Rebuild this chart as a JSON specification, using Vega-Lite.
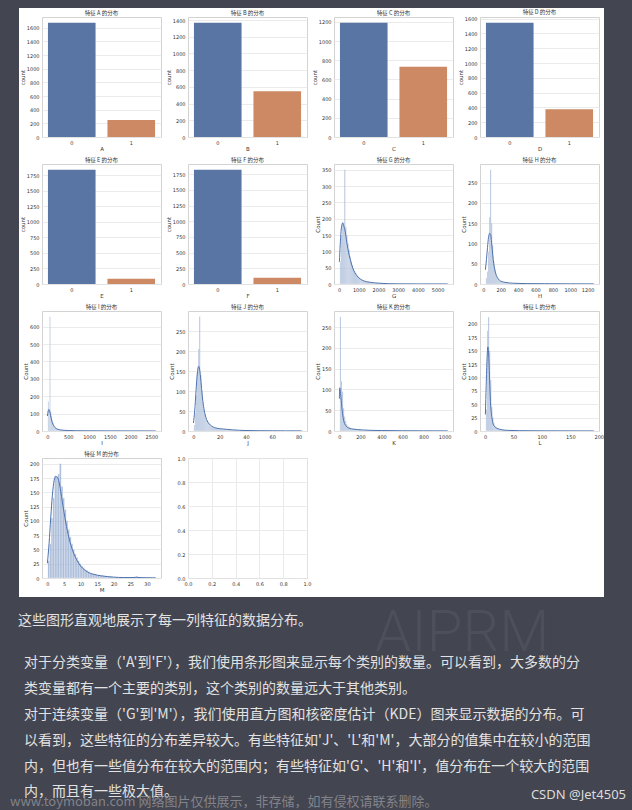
{
"$schema": "https://vega.github.io/schema/vega-lite/v6.json",
"background": "white",
"padding": 0,
"spacing": 0,
"config": {
  "font": "DejaVu Sans",
  "view": {"stroke": "#d3d3d3", "strokeWidth": 1},
  "axis": {"labelFont": "DejaVu Sans", "labelFontSize": 5, "labelColor": "#333333", "titleFont": "DejaVu Sans", "titleFontSize": 5.5, "titleFontWeight": "normal", "titleColor": "#333333", "ticks": false, "tickSize": 0, "domain": false, "gridColor": "#e6e6e6", "gridWidth": 0.8, "labelPadding": 3, "titlePadding": 1, "labelFlush": false, "labelOverlap": false},
  "title": {"font": "Noto Sans CJK SC", "fontSize": 5.5, "fontWeight": "normal", "color": "#333333", "offset": 1}
},
"datasets": {
  "A": [{"value": "0", "count": 1673}, {"value": "1", "count": 249}],
  "B": [{"value": "0", "count": 1368}, {"value": "1", "count": 546}],
  "C": [{"value": "0", "count": 1190}, {"value": "1", "count": 732}],
  "D": [{"value": "0", "count": 1546}, {"value": "1", "count": 374}],
  "E": [{"value": "0", "count": 1835}, {"value": "1", "count": 85}],
  "F": [{"value": "0", "count": 1820}, {"value": "1", "count": 100}],
  "G_hist": [{"s":19,"c":70},{"s":74,"c":150},{"s":129,"c":190},{"s":184,"c":185},{"s":239,"c":350},{"s":294,"c":175},{"s":349,"c":150},{"s":404,"c":125},{"s":459,"c":105},{"s":514,"c":85},{"s":569,"c":70},{"s":624,"c":58},{"s":679,"c":48},{"s":734,"c":40},{"s":789,"c":34},{"s":844,"c":28},{"s":899,"c":24},{"s":954,"c":20},{"s":1009,"c":17},{"s":1064,"c":14},{"s":1119,"c":12},{"s":1174,"c":11},{"s":1229,"c":9},{"s":1284,"c":8},{"s":1339,"c":7},{"s":1394,"c":6},{"s":1449,"c":6},{"s":1504,"c":5},{"s":1559,"c":5},{"s":1614,"c":4},{"s":1669,"c":4},{"s":1724,"c":3},{"s":1779,"c":3},{"s":1834,"c":3},{"s":1889,"c":2},{"s":1944,"c":2},{"s":1999,"c":2},{"s":2054,"c":2},{"s":2109,"c":1},{"s":2164,"c":1},{"s":2274,"c":1},{"s":2384,"c":1},{"s":2549,"c":1},{"s":2714,"c":1},{"s":3044,"c":1},{"s":3539,"c":1},{"s":4419,"c":1},{"s":5464,"c":1}],
  "G_kde": [{"x":19,"y":68},{"x":60,"y":120},{"x":100,"y":160},{"x":150,"y":183},{"x":190,"y":187},{"x":230,"y":180},{"x":300,"y":165},{"x":400,"y":125},{"x":500,"y":92},{"x":600,"y":68},{"x":700,"y":48},{"x":800,"y":35},{"x":900,"y":26},{"x":1000,"y":19},{"x":1200,"y":11},{"x":1400,"y":7},{"x":1600,"y":5},{"x":1800,"y":3.5},{"x":2000,"y":2.5},{"x":2500,"y":1},{"x":3000,"y":0.5},{"x":4000,"y":0.2},{"x":5507,"y":0.1}],
  "H_hist": [{"s":24,"c":15},{"s":36,"c":30},{"s":48,"c":80},{"s":60,"c":165},{"s":72,"c":282},{"s":84,"c":150},{"s":96,"c":95},{"s":108,"c":55},{"s":120,"c":38},{"s":132,"c":26},{"s":144,"c":19},{"s":156,"c":14},{"s":168,"c":10},{"s":180,"c":8},{"s":192,"c":6},{"s":204,"c":5},{"s":216,"c":4},{"s":228,"c":3},{"s":240,"c":3},{"s":252,"c":2},{"s":264,"c":2},{"s":276,"c":2},{"s":288,"c":1},{"s":300,"c":1},{"s":324,"c":1},{"s":348,"c":1},{"s":384,"c":1},{"s":420,"c":1},{"s":480,"c":1},{"s":540,"c":1},{"s":612,"c":1},{"s":720,"c":1},{"s":840,"c":1},{"s":1020,"c":1},{"s":1256,"c":1}],
  "H_kde": [{"x":24,"y":35},{"x":36,"y":60},{"x":48,"y":90},{"x":60,"y":115},{"x":72,"y":125},{"x":84,"y":122},{"x":96,"y":100},{"x":108,"y":72},{"x":120,"y":50},{"x":135,"y":32},{"x":150,"y":21},{"x":170,"y":13},{"x":200,"y":7},{"x":250,"y":4},{"x":300,"y":2.5},{"x":400,"y":1.5},{"x":500,"y":1},{"x":700,"y":0.7},{"x":1000,"y":0.4},{"x":1268,"y":0.2}],
  "I_hist": [{"s":0,"c":170},{"s":20,"c":120},{"s":40,"c":657},{"s":60,"c":110},{"s":80,"c":88},{"s":100,"c":62},{"s":120,"c":44},{"s":140,"c":32},{"s":160,"c":24},{"s":180,"c":18},{"s":200,"c":14},{"s":220,"c":11},{"s":240,"c":9},{"s":260,"c":7},{"s":280,"c":6},{"s":300,"c":5},{"s":320,"c":4},{"s":340,"c":4},{"s":360,"c":3},{"s":380,"c":3},{"s":400,"c":2},{"s":420,"c":2},{"s":460,"c":2},{"s":500,"c":1},{"s":540,"c":1},{"s":600,"c":1},{"s":680,"c":1},{"s":760,"c":1},{"s":860,"c":1},{"s":980,"c":1},{"s":1120,"c":1},{"s":1300,"c":1},{"s":1560,"c":1},{"s":1900,"c":1},{"s":2280,"c":1},{"s":2580,"c":1}],
  "I_kde": [{"x":0,"y":86},{"x":15,"y":110},{"x":35,"y":124},{"x":55,"y":115},{"x":75,"y":90},{"x":100,"y":62},{"x":130,"y":40},{"x":160,"y":27},{"x":200,"y":16},{"x":250,"y":10},{"x":300,"y":6.5},{"x":400,"y":4},{"x":500,"y":2.7},{"x":700,"y":1.6},{"x":1000,"y":1},{"x":1500,"y":0.6},{"x":2000,"y":0.4},{"x":2600,"y":0.2}],
  "J_hist": [{"s":0,"c":15},{"s":0.8,"c":45},{"s":1.6,"c":90},{"s":2.4,"c":150},{"s":3.2,"c":205},{"s":4.0,"c":286},{"s":4.8,"c":140},{"s":5.6,"c":100},{"s":6.4,"c":72},{"s":7.2,"c":55},{"s":8.0,"c":42},{"s":8.8,"c":33},{"s":9.6,"c":27},{"s":10.4,"c":22},{"s":11.2,"c":18},{"s":12.0,"c":15},{"s":12.8,"c":12},{"s":13.6,"c":10},{"s":14.4,"c":9},{"s":15.2,"c":8},{"s":16.0,"c":7},{"s":16.8,"c":6},{"s":17.6,"c":6},{"s":18.4,"c":5},{"s":19.2,"c":5},{"s":20.0,"c":5},{"s":20.8,"c":4},{"s":21.6,"c":4},{"s":22.4,"c":4},{"s":23.2,"c":4},{"s":24.0,"c":3},{"s":24.8,"c":3},{"s":25.6,"c":3},{"s":26.4,"c":3},{"s":27.2,"c":3},{"s":28.0,"c":2},{"s":28.8,"c":2},{"s":29.6,"c":2},{"s":30.4,"c":2},{"s":31.2,"c":2},{"s":32.0,"c":2},{"s":33.6,"c":2},{"s":35.2,"c":1},{"s":36.8,"c":1},{"s":38.4,"c":1},{"s":40.0,"c":1},{"s":41.6,"c":1},{"s":43.2,"c":1},{"s":44.8,"c":1},{"s":48.0,"c":1},{"s":51.2,"c":1},{"s":54.4,"c":1},{"s":57.6,"c":1},{"s":61.6,"c":1},{"s":67.2,"c":1},{"s":74.4,"c":1},{"s":81.6,"c":1}],
  "J_kde": [{"x":0,"y":20},{"x":1,"y":50},{"x":2,"y":100},{"x":3,"y":145},{"x":4,"y":162},{"x":5,"y":148},{"x":6,"y":115},{"x":7,"y":80},{"x":8,"y":56},{"x":9,"y":40},{"x":10,"y":29},{"x":12,"y":18},{"x":14,"y":12},{"x":16,"y":8.5},{"x":18,"y":6.8},{"x":20,"y":5.8},{"x":25,"y":4.2},{"x":30,"y":2.8},{"x":35,"y":1.8},{"x":40,"y":1.2},{"x":50,"y":0.7},{"x":60,"y":0.5},{"x":70,"y":0.3},{"x":82.3,"y":0.2}],
  "K_hist": [{"s":0,"c":275},{"s":10,"c":120},{"s":20,"c":95},{"s":30,"c":55},{"s":40,"c":35},{"s":50,"c":24},{"s":60,"c":17},{"s":70,"c":12},{"s":80,"c":10},{"s":90,"c":8},{"s":100,"c":7},{"s":110,"c":6},{"s":120,"c":5},{"s":130,"c":5},{"s":140,"c":4},{"s":150,"c":4},{"s":160,"c":3},{"s":170,"c":3},{"s":180,"c":3},{"s":190,"c":2},{"s":200,"c":2},{"s":210,"c":2},{"s":230,"c":2},{"s":250,"c":1},{"s":270,"c":1},{"s":290,"c":1},{"s":320,"c":1},{"s":360,"c":1},{"s":400,"c":1},{"s":450,"c":1},{"s":520,"c":1},{"s":600,"c":1},{"s":720,"c":1},{"s":850,"c":1},{"s":1010,"c":1}],
  "K_kde": [{"x":0,"y":78},{"x":3,"y":104},{"x":8,"y":98},{"x":15,"y":80},{"x":25,"y":52},{"x":35,"y":33},{"x":45,"y":21},{"x":60,"y":13},{"x":75,"y":9},{"x":100,"y":6},{"x":130,"y":4.6},{"x":170,"y":3.5},{"x":220,"y":2.5},{"x":300,"y":1.6},{"x":400,"y":1.1},{"x":600,"y":0.6},{"x":800,"y":0.4},{"x":1028,"y":0.2}],
  "L_hist": [{"s":0.6,"c":40},{"s":2.5,"c":187},{"s":4.4,"c":213},{"s":6.3,"c":150},{"s":8.2,"c":95},{"s":10.1,"c":45},{"s":12.0,"c":25},{"s":13.9,"c":15},{"s":15.8,"c":10},{"s":17.7,"c":7},{"s":19.6,"c":5},{"s":21.5,"c":4},{"s":23.4,"c":3},{"s":25.3,"c":3},{"s":27.2,"c":2},{"s":29.1,"c":2},{"s":31.0,"c":2},{"s":32.9,"c":1},{"s":34.8,"c":1},{"s":38.6,"c":1},{"s":42.4,"c":1},{"s":48.1,"c":1},{"s":55.7,"c":1},{"s":65.2,"c":1},{"s":78.5,"c":1},{"s":95.6,"c":1},{"s":120.3,"c":1},{"s":150.7,"c":1},{"s":189.1,"c":1}],
  "L_kde": [{"x":0.6,"y":31},{"x":2,"y":85},{"x":3.5,"y":135},{"x":5,"y":157},{"x":6.5,"y":140},{"x":8,"y":95},{"x":9.5,"y":55},{"x":11,"y":34},{"x":12.5,"y":22},{"x":14,"y":14},{"x":17,"y":8},{"x":20,"y":5.5},{"x":25,"y":3.5},{"x":30,"y":2.2},{"x":40,"y":1.2},{"x":60,"y":0.6},{"x":100,"y":0.3},{"x":150,"y":0.2},{"x":191,"y":0.1}],
  "M_hist": [{"s":0,"c":30},{"s":0.5,"c":60},{"s":1.0,"c":105},{"s":1.5,"c":140},{"s":2.0,"c":178},{"s":2.5,"c":178},{"s":3.0,"c":182},{"s":3.5,"c":200},{"s":4.0,"c":160},{"s":4.5,"c":140},{"s":5.0,"c":120},{"s":5.5,"c":100},{"s":6.0,"c":85},{"s":6.5,"c":72},{"s":7.0,"c":60},{"s":7.5,"c":50},{"s":8.0,"c":42},{"s":8.5,"c":36},{"s":9.0,"c":30},{"s":9.5,"c":25},{"s":10.0,"c":21},{"s":10.5,"c":18},{"s":11.0,"c":15},{"s":11.5,"c":13},{"s":12.0,"c":11},{"s":12.5,"c":9},{"s":13.0,"c":8},{"s":13.5,"c":7},{"s":14.0,"c":6},{"s":14.5,"c":5},{"s":15.0,"c":5},{"s":15.5,"c":4},{"s":16.0,"c":4},{"s":16.5,"c":3},{"s":17.0,"c":3},{"s":17.5,"c":2},{"s":18.0,"c":2},{"s":18.5,"c":2},{"s":19.0,"c":2},{"s":19.5,"c":1},{"s":20.0,"c":1},{"s":20.5,"c":1},{"s":21.5,"c":1},{"s":22.5,"c":1},{"s":23.5,"c":1},{"s":25.0,"c":1},{"s":26.5,"c":3},{"s":27.0,"c":1},{"s":28.5,"c":1},{"s":30.0,"c":1},{"s":32.0,"c":1}],
  "M_kde": [{"x":0,"y":26},{"x":0.5,"y":60},{"x":1,"y":105},{"x":1.5,"y":145},{"x":2,"y":170},{"x":2.5,"y":178},{"x":3,"y":176},{"x":3.5,"y":168},{"x":4,"y":152},{"x":4.5,"y":133},{"x":5,"y":115},{"x":5.5,"y":98},{"x":6,"y":83},{"x":6.5,"y":70},{"x":7,"y":59},{"x":7.5,"y":50},{"x":8,"y":42},{"x":9,"y":30},{"x":10,"y":21},{"x":11,"y":15},{"x":12,"y":11},{"x":13,"y":8},{"x":14,"y":6.5},{"x":15,"y":5},{"x":16,"y":4},{"x":18,"y":2.5},{"x":20,"y":1.5},{"x":23,"y":0.8},{"x":25.5,"y":0.8},{"x":26.8,"y":1.2},{"x":28.5,"y":0.6},{"x":32.6,"y":0.2}],
  "para1": [{"line": 0, "t": "这些图形直观地展示了每一列特征的数据分布。"}],
  "para2": [
    {"line": 1, "t": "对于分类变量（'A'到'F'），我们使用条形图来显示每个类别的数量。可以看到，大多数的分"},
    {"line": 2, "t": "类变量都有一个主要的类别，这个类别的数量远大于其他类别。"},
    {"line": 3, "t": "对于连续变量（'G'到'M'），我们使用直方图和核密度估计（KDE）图来显示数据的分布。可"},
    {"line": 4, "t": "以看到，这些特征的分布差异较大。有些特征如'J'、'L'和'M'，大部分的值集中在较小的范围"},
    {"line": 5, "t": "内，但也有一些值分布在较大的范围内；有些特征如'G'、'H'和'I'，值分布在一个较大的范围"},
    {"line": 6, "t": "内，而且有一些极大值。"}
  ]
},
"vconcat": [
  {"data": {"values": []}, "mark": "point", "width": 632, "height": 8, "view": {"fill": "#434550", "stroke": null}},
  {"hconcat": [
    {"data": {"values": []}, "mark": "point", "width": 19, "height": 589, "view": {"fill": "#434550", "stroke": null}},
    {"vconcat": [
      {"data": {"values": []}, "mark": "point", "width": 1, "height": 1, "view": {"stroke": null}},
      {"concat": [
        {"title": "特征 A 的分布", "width": 119, "height": 120, "data": {"name": "A"}, "mark": "bar",
         "encoding": {"x": {"field": "value", "type": "nominal", "title": "A", "scale": {"paddingInner": 0.2, "paddingOuter": 0.1}, "axis": {"labelAngle": 0, "grid": false}},
                      "y": {"field": "count", "type": "quantitative", "title": "count", "scale": {"domain": [0, 1757], "nice": false}, "axis": {"values": [0,200,400,600,800,1000,1200,1400,1600], "format": "d"}},
                      "color": {"field": "value", "type": "nominal", "scale": {"range": ["#5875a4", "#cc8963"]}, "legend": null}}},
        {"title": "特征 B 的分布", "width": 119, "height": 120, "data": {"name": "B"}, "mark": "bar",
         "encoding": {"x": {"field": "value", "type": "nominal", "title": "B", "scale": {"paddingInner": 0.2, "paddingOuter": 0.1}, "axis": {"labelAngle": 0, "grid": false}},
                      "y": {"field": "count", "type": "quantitative", "title": "count", "scale": {"domain": [0, 1436], "nice": false}, "axis": {"values": [0,200,400,600,800,1000,1200,1400], "format": "d"}},
                      "color": {"field": "value", "type": "nominal", "scale": {"range": ["#5875a4", "#cc8963"]}, "legend": null}}},
        {"title": "特征 C 的分布", "width": 119, "height": 120, "data": {"name": "C"}, "mark": "bar",
         "encoding": {"x": {"field": "value", "type": "nominal", "title": "C", "scale": {"paddingInner": 0.2, "paddingOuter": 0.1}, "axis": {"labelAngle": 0, "grid": false}},
                      "y": {"field": "count", "type": "quantitative", "title": "count", "scale": {"domain": [0, 1250], "nice": false}, "axis": {"values": [0,200,400,600,800,1000,1200], "format": "d"}},
                      "color": {"field": "value", "type": "nominal", "scale": {"range": ["#5875a4", "#cc8963"]}, "legend": null}}},
        {"title": "特征 D 的分布", "width": 119, "height": 120, "data": {"name": "D"}, "mark": "bar",
         "encoding": {"x": {"field": "value", "type": "nominal", "title": "D", "scale": {"paddingInner": 0.2, "paddingOuter": 0.1}, "axis": {"labelAngle": 0, "grid": false}},
                      "y": {"field": "count", "type": "quantitative", "title": "count", "scale": {"domain": [0, 1623], "nice": false}, "axis": {"values": [0,200,400,600,800,1000,1200,1400,1600], "format": "d"}},
                      "color": {"field": "value", "type": "nominal", "scale": {"range": ["#5875a4", "#cc8963"]}, "legend": null}}},
        {"title": "特征 E 的分布", "width": 119, "height": 120, "data": {"name": "E"}, "mark": "bar",
         "encoding": {"x": {"field": "value", "type": "nominal", "title": "E", "scale": {"paddingInner": 0.2, "paddingOuter": 0.1}, "axis": {"labelAngle": 0, "grid": false}},
                      "y": {"field": "count", "type": "quantitative", "title": "count", "scale": {"domain": [0, 1927], "nice": false}, "axis": {"values": [0,250,500,750,1000,1250,1500,1750], "format": "d"}},
                      "color": {"field": "value", "type": "nominal", "scale": {"range": ["#5875a4", "#cc8963"]}, "legend": null}}},
        {"title": "特征 F 的分布", "width": 119, "height": 120, "data": {"name": "F"}, "mark": "bar",
         "encoding": {"x": {"field": "value", "type": "nominal", "title": "F", "scale": {"paddingInner": 0.2, "paddingOuter": 0.1}, "axis": {"labelAngle": 0, "grid": false}},
                      "y": {"field": "count", "type": "quantitative", "title": "count", "scale": {"domain": [0, 1911], "nice": false}, "axis": {"values": [0,250,500,750,1000,1250,1500,1750], "format": "d"}},
                      "color": {"field": "value", "type": "nominal", "scale": {"range": ["#5875a4", "#cc8963"]}, "legend": null}}},
        {"title": "特征 G 的分布", "width": 119, "height": 120, "layer": [
          {"data": {"name": "G_hist"}, "mark": {"type": "bar", "fill": "#4c72b0", "fillOpacity": 0.5, "stroke": "white", "strokeWidth": 0.3, "binSpacing": 0, "clip": true},
           "encoding": {"x": {"field": "s", "type": "quantitative", "bin": {"binned": true, "step": 55}, "title": "G", "scale": {"domain": [-255.4, 5781.4], "nice": false, "zero": false}, "axis": {"values": [0,1000,2000,3000,4000,5000], "format": "d"}},
                        "y": {"field": "c", "type": "quantitative", "title": "Count", "scale": {"domain": [0, 367.5], "nice": false}, "axis": {"values": [0,50,100,150,200,250,300,350], "format": "d"}}}},
          {"data": {"name": "G_kde"}, "mark": {"type": "line", "color": "#4c72b0", "strokeWidth": 1, "interpolate": "monotone", "clip": true},
           "encoding": {"x": {"field": "x", "type": "quantitative", "title": "G", "axis": {"values": [0,1000,2000,3000,4000,5000], "format": "d"}}, "y": {"field": "y", "type": "quantitative", "title": "Count", "axis": {"values": [0,50,100,150,200,250,300,350], "format": "d"}}}}]},
        {"title": "特征 H 的分布", "width": 119, "height": 120, "layer": [
          {"data": {"name": "H_hist"}, "mark": {"type": "bar", "fill": "#4c72b0", "fillOpacity": 0.5, "stroke": "white", "strokeWidth": 0.3, "binSpacing": 0, "clip": true},
           "encoding": {"x": {"field": "s", "type": "quantitative", "bin": {"binned": true, "step": 12}, "title": "H", "scale": {"domain": [-38.2, 1330.2], "nice": false, "zero": false}, "axis": {"values": [0,200,400,600,800,1000,1200], "format": "d"}},
                        "y": {"field": "c", "type": "quantitative", "title": "Count", "scale": {"domain": [0, 296], "nice": false}, "axis": {"values": [0,50,100,150,200,250], "format": "d"}}}},
          {"data": {"name": "H_kde"}, "mark": {"type": "line", "color": "#4c72b0", "strokeWidth": 1, "interpolate": "monotone", "clip": true},
           "encoding": {"x": {"field": "x", "type": "quantitative", "title": "H", "axis": {"values": [0,200,400,600,800,1000,1200], "format": "d"}}, "y": {"field": "y", "type": "quantitative", "title": "Count", "axis": {"values": [0,50,100,150,200,250], "format": "d"}}}}]},
        {"title": "特征 I 的分布", "width": 119, "height": 120, "layer": [
          {"data": {"name": "I_hist"}, "mark": {"type": "bar", "fill": "#4c72b0", "fillOpacity": 0.5, "stroke": "white", "strokeWidth": 0.3, "binSpacing": 0, "clip": true},
           "encoding": {"x": {"field": "s", "type": "quantitative", "bin": {"binned": true, "step": 20}, "title": "I", "scale": {"domain": [-130, 2730], "nice": false, "zero": false}, "axis": {"values": [0,500,1000,1500,2000,2500], "format": "d"}},
                        "y": {"field": "c", "type": "quantitative", "title": "Count", "scale": {"domain": [0, 690], "nice": false}, "axis": {"values": [0,100,200,300,400,500,600], "format": "d"}}}},
          {"data": {"name": "I_kde"}, "mark": {"type": "line", "color": "#4c72b0", "strokeWidth": 1, "interpolate": "monotone", "clip": true},
           "encoding": {"x": {"field": "x", "type": "quantitative", "title": "I", "axis": {"values": [0,500,1000,1500,2000,2500], "format": "d"}}, "y": {"field": "y", "type": "quantitative", "title": "Count", "axis": {"values": [0,100,200,300,400,500,600], "format": "d"}}}}]},
        {"title": "特征 J 的分布", "width": 119, "height": 120, "layer": [
          {"data": {"name": "J_hist"}, "mark": {"type": "bar", "fill": "#4c72b0", "fillOpacity": 0.5, "stroke": "white", "strokeWidth": 0.3, "binSpacing": 0, "clip": true},
           "encoding": {"x": {"field": "s", "type": "quantitative", "bin": {"binned": true, "step": 0.8}, "title": "J", "scale": {"domain": [-4.1, 86.4], "nice": false, "zero": false}, "axis": {"values": [0,20,40,60,80], "format": "d"}},
                        "y": {"field": "c", "type": "quantitative", "title": "Count", "scale": {"domain": [0, 300], "nice": false}, "axis": {"values": [0,50,100,150,200,250], "format": "d"}}}},
          {"data": {"name": "J_kde"}, "mark": {"type": "line", "color": "#4c72b0", "strokeWidth": 1, "interpolate": "monotone", "clip": true},
           "encoding": {"x": {"field": "x", "type": "quantitative", "title": "J", "axis": {"values": [0,20,40,60,80], "format": "d"}}, "y": {"field": "y", "type": "quantitative", "title": "Count", "axis": {"values": [0,50,100,150,200,250], "format": "d"}}}}]},
        {"title": "特征 K 的分布", "width": 119, "height": 120, "layer": [
          {"data": {"name": "K_hist"}, "mark": {"type": "bar", "fill": "#4c72b0", "fillOpacity": 0.5, "stroke": "white", "strokeWidth": 0.3, "binSpacing": 0, "clip": true},
           "encoding": {"x": {"field": "s", "type": "quantitative", "bin": {"binned": true, "step": 10}, "title": "K", "scale": {"domain": [-51.4, 1079.4], "nice": false, "zero": false}, "axis": {"values": [0,200,400,600,800,1000], "format": "d"}},
                        "y": {"field": "c", "type": "quantitative", "title": "Count", "scale": {"domain": [0, 289], "nice": false}, "axis": {"values": [0,50,100,150,200,250], "format": "d"}}}},
          {"data": {"name": "K_kde"}, "mark": {"type": "line", "color": "#4c72b0", "strokeWidth": 1, "interpolate": "monotone", "clip": true},
           "encoding": {"x": {"field": "x", "type": "quantitative", "title": "K", "axis": {"values": [0,200,400,600,800,1000], "format": "d"}}, "y": {"field": "y", "type": "quantitative", "title": "Count", "axis": {"values": [0,50,100,150,200,250], "format": "d"}}}}]},
        {"title": "特征 L 的分布", "width": 119, "height": 120, "layer": [
          {"data": {"name": "L_hist"}, "mark": {"type": "bar", "fill": "#4c72b0", "fillOpacity": 0.5, "stroke": "white", "strokeWidth": 0.3, "binSpacing": 0, "clip": true},
           "encoding": {"x": {"field": "s", "type": "quantitative", "bin": {"binned": true, "step": 1.9}, "title": "L", "scale": {"domain": [-8.9, 200.5], "nice": false, "zero": false}, "axis": {"values": [0,50,100,150,200], "format": "d"}},
                        "y": {"field": "c", "type": "quantitative", "title": "Count", "scale": {"domain": [0, 224], "nice": false}, "axis": {"values": [0,25,50,75,100,125,150,175,200], "format": "d"}}}},
          {"data": {"name": "L_kde"}, "mark": {"type": "line", "color": "#4c72b0", "strokeWidth": 1, "interpolate": "monotone", "clip": true},
           "encoding": {"x": {"field": "x", "type": "quantitative", "title": "L", "axis": {"values": [0,50,100,150,200], "format": "d"}}, "y": {"field": "y", "type": "quantitative", "title": "Count", "axis": {"values": [0,25,50,75,100,125,150,175,200], "format": "d"}}}}]},
        {"title": "特征 M 的分布", "width": 119, "height": 120, "layer": [
          {"data": {"name": "M_hist"}, "mark": {"type": "bar", "fill": "#4c72b0", "fillOpacity": 0.5, "stroke": "white", "strokeWidth": 0.3, "binSpacing": 0, "clip": true},
           "encoding": {"x": {"field": "s", "type": "quantitative", "bin": {"binned": true, "step": 0.5}, "title": "M", "scale": {"domain": [-1.63, 34.23], "nice": false, "zero": false}, "axis": {"values": [0,5,10,15,20,25,30], "format": "d"}},
                        "y": {"field": "c", "type": "quantitative", "title": "Count", "scale": {"domain": [0, 210], "nice": false}, "axis": {"values": [0,25,50,75,100,125,150,175,200], "format": "d"}}}},
          {"data": {"name": "M_kde"}, "mark": {"type": "line", "color": "#4c72b0", "strokeWidth": 1, "interpolate": "monotone", "clip": true},
           "encoding": {"x": {"field": "x", "type": "quantitative", "title": "M", "axis": {"values": [0,5,10,15,20,25,30], "format": "d"}}, "y": {"field": "y", "type": "quantitative", "title": "Count", "axis": {"values": [0,25,50,75,100,125,150,175,200], "format": "d"}}}}]},
        {"width": 119, "height": 120, "data": {"values": []}, "mark": "point",
         "encoding": {"x": {"field": "x", "type": "quantitative", "title": null, "scale": {"domain": [0, 1], "nice": false}, "axis": {"values": [0,0.2,0.4,0.6,0.8,1], "format": ".1f"}},
                      "y": {"field": "y", "type": "quantitative", "title": null, "scale": {"domain": [0, 1], "nice": false}, "axis": {"values": [0,0.2,0.4,0.6,0.8,1], "format": ".1f"}}}}
      ], "columns": 4, "spacing": 27, "bounds": "flush",
      "resolve": {"scale": {"x": "independent", "y": "independent", "color": "independent"}}}
    ], "spacing": 0},
    {"data": {"values": []}, "mark": "point", "width": 30, "height": 589, "view": {"fill": "#434550", "stroke": null}}
  ], "spacing": 0},
  {"width": 632, "height": 213, "view": {"fill": "#434550", "stroke": null},
   "layer": [
     {"data": {"values": [{"t": "AIPRM"}]}, "mark": {"type": "text", "font": "Roboto", "fontWeight": 300, "fontSize": 58, "color": "#4d4f5a", "align": "left", "baseline": "middle"},
      "encoding": {"x": {"datum": 375, "type": "quantitative", "scale": {"domain": [0, 632], "range": [0, 632]}, "axis": null}, "y": {"datum": 0.5, "type": "quantitative", "scale": {"domain": [0, 6], "range": [24, 179.4]}, "axis": null}, "text": {"field": "t"}}},
     {"data": {"name": "para1"}, "mark": {"type": "text", "font": "Noto Sans CJK SC", "fontSize": 14, "color": "#e2e2e2", "align": "left", "baseline": "middle"},
      "encoding": {"x": {"datum": 18, "type": "quantitative", "scale": {"domain": [0, 632], "range": [0, 632]}, "axis": null}, "y": {"field": "line", "type": "quantitative", "scale": {"domain": [0, 6], "range": [24, 179.4]}, "axis": null}, "text": {"field": "t"}}},
     {"data": {"name": "para2"}, "mark": {"type": "text", "font": "Noto Sans CJK SC", "fontSize": 14, "color": "#e2e2e2", "align": "left", "baseline": "middle", "dy": 16},
      "encoding": {"x": {"datum": 24, "type": "quantitative", "scale": {"domain": [0, 632], "range": [0, 632]}, "axis": null}, "y": {"field": "line", "type": "quantitative", "scale": {"domain": [0, 6], "range": [24, 179.4]}, "axis": null}, "text": {"field": "t"}}},
     {"data": {"values": [{"t": "www.toymoban.com 网络图片仅供展示，非存储，如有侵权请联系删除。"}]}, "mark": {"type": "text", "font": "Noto Sans CJK SC", "fontSize": 13, "color": "#8e8f96", "opacity": 0.85, "align": "left", "baseline": "middle"},
      "encoding": {"x": {"datum": 10, "type": "quantitative", "scale": {"domain": [0, 632], "range": [0, 632]}, "axis": null}, "y": {"datum": 7.0, "type": "quantitative", "scale": {"domain": [0, 6], "range": [24, 179.4]}, "axis": null}, "text": {"field": "t"}}},
     {"data": {"values": [{"t": "CSDN @Jet4505"}]}, "mark": {"type": "text", "font": "Noto Sans", "fontSize": 13, "color": "#dcdcdc", "align": "right", "baseline": "middle"},
      "encoding": {"x": {"datum": 626, "type": "quantitative", "scale": {"domain": [0, 632], "range": [0, 632]}, "axis": null}, "y": {"datum": 6.72, "type": "quantitative", "scale": {"domain": [0, 6], "range": [24, 179.4]}, "axis": null}, "text": {"field": "t"}}}
   ]}
]
}
